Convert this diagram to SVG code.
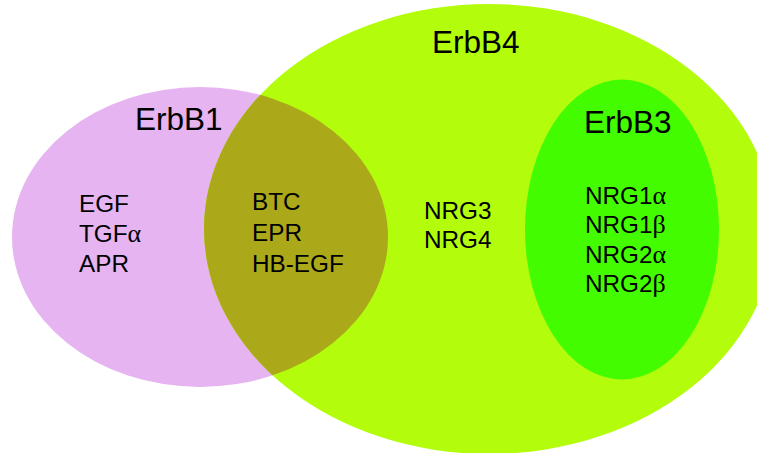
<svg xmlns="http://www.w3.org/2000/svg" width="757" height="453" viewBox="0 0 757 453">
<style>
.title{font-family:"Liberation Sans",Arial,sans-serif;font-size:31.5px;fill:#000}
.lbl{font-family:"Liberation Sans",Arial,sans-serif;font-size:24.3px;fill:#000}
.gr{font-family:"Liberation Serif","Times New Roman",serif;font-size:26px}
</style>
<defs>
<clipPath id="clipB4"><ellipse cx="489" cy="229" rx="285" ry="225"/></clipPath>
</defs>
<rect width="757" height="453" fill="#fff"/>
<g id="ErbB1">
<ellipse cx="200" cy="237" rx="188" ry="150" fill="#E6B4F0"/>
</g>
<g id="ErbB4">
<ellipse cx="489" cy="229" rx="285" ry="225" fill="#B2FC0C"/>
</g>
<g id="ErbB1-ErbB4">
<ellipse cx="200" cy="237" rx="188" ry="150" fill="#ABA81A" clip-path="url(#clipB4)"/>
</g>
<g id="ErbB3">
<ellipse cx="622" cy="229.5" rx="97" ry="150" fill="#44FC00"/>
</g>
<g id="labels">
<text class="title" x="432" y="53">ErbB4</text>
<text class="title" x="135" y="130">ErbB1</text>
<text class="title" x="584" y="133">ErbB3</text>
<text class="lbl" x="79" y="212">EGF</text>
<text class="lbl" x="79" y="242">TGF<tspan class="gr">α</tspan></text>
<text class="lbl" x="79" y="272">APR</text>
<text class="lbl" x="252" y="210">BTC</text>
<text class="lbl" x="252" y="241">EPR</text>
<text class="lbl" x="252" y="272">HB-EGF</text>
<text class="lbl" x="424" y="219">NRG3</text>
<text class="lbl" x="424" y="248">NRG4</text>
<text class="lbl" x="585" y="204">NRG1<tspan class="gr">α</tspan></text>
<text class="lbl" x="585" y="233">NRG1<tspan class="gr">β</tspan></text>
<text class="lbl" x="585" y="262.5">NRG2<tspan class="gr">α</tspan></text>
<text class="lbl" x="585" y="292">NRG2<tspan class="gr">β</tspan></text>
</g>
<g id="connectors"/>
</svg>
